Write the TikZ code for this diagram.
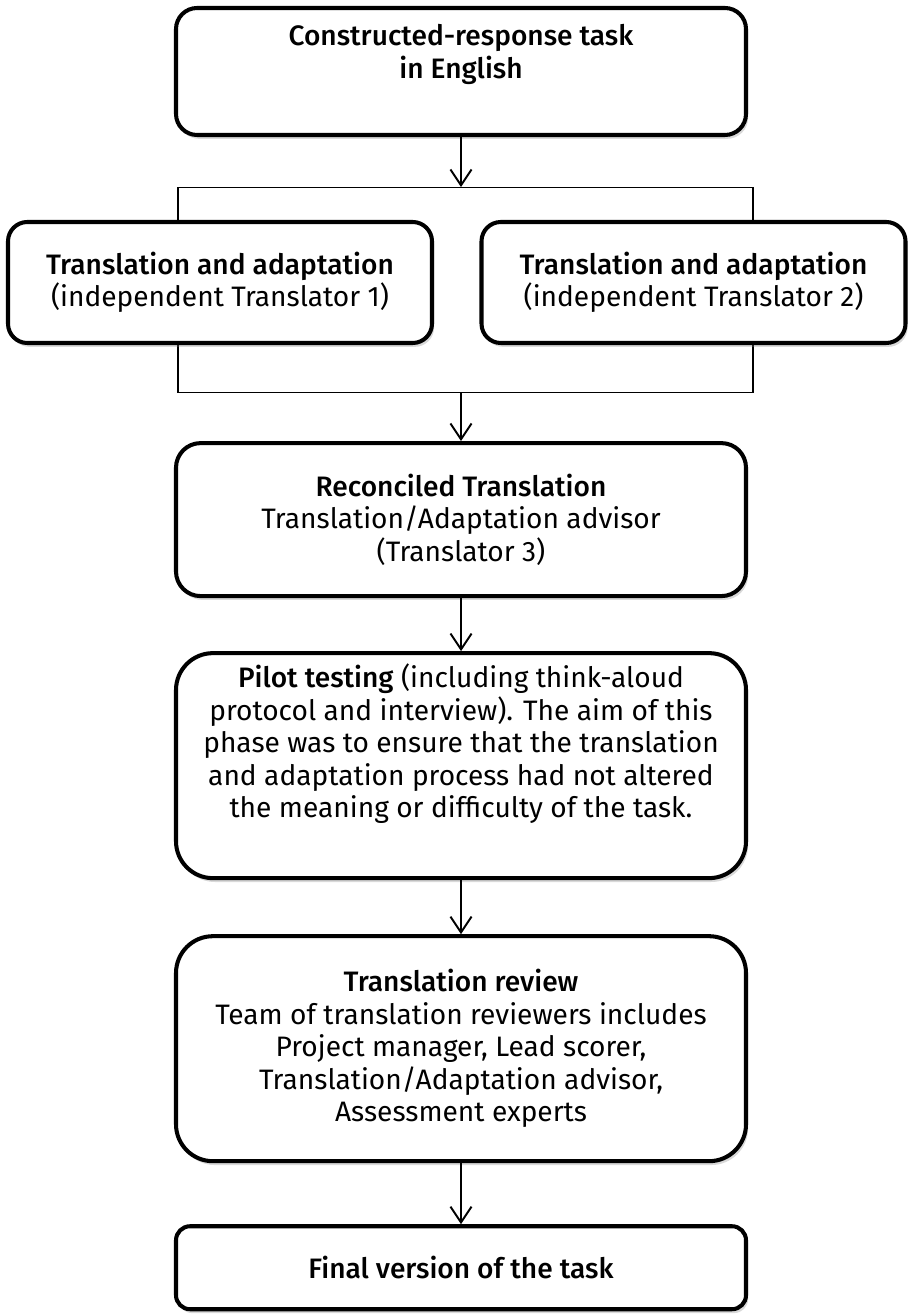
\documentclass[tikz,border=0pt]{standalone}
\usepackage{fontspec}
\setmainfont{Fira Sans}
\newfontfamily\medfont{Fira Sans Medium}
\usetikzlibrary{arrows.meta, positioning, shadows}

\begin{document}
\begin{tikzpicture}[
        font=\fontsize{16}{18.5}\selectfont,
        >={Straight Barb[length=9pt,width=12pt]},
        line width=1.1pt,
        box/.style={
            draw=black,
            fill=white,
            line width=2.3pt,
            rounded corners=#1,
            align=center,
            inner sep=4pt,
            minimum width=11.4cm,
            drop shadow={opacity=0.3, shadow xshift=1.2pt, shadow yshift=-2.2pt}
        },
        box/.default=12pt,
        bracket/.style={
            draw=black,
            line width=0.6pt,
            inner sep=0pt,
            minimum width=11.5cm,
            minimum height=4.1cm
        }
    ]
        \useasboundingbox (0,0) rectangle (18.22,-26.28);

        \node[box=12pt, minimum height=2.54cm, text depth=0.8cm] (task) at (9.22,-1.43) {\medfont Constructed-response task\\\medfont in English};

        % frame behind the two translations
        \node[bracket, below=1.0cm of task, xshift=0.09cm] (pair) {};

        \node[box=11pt, minimum width=8.48cm, minimum height=2.42cm] (trans1) at (4.4,-5.65) {{\medfont Translation and adaptation}\\(independent Translator 1)};
        \node[box=11pt, minimum width=8.48cm, minimum height=2.42cm] (trans2) at (13.87,-5.65) {{\medfont Translation and adaptation}\\(independent Translator 2)};

        \node[box=14pt, minimum height=3.06cm, below=0.96cm of pair, xshift=-0.09cm] (reconcile) {{\medfont Reconciled Translation}\\Translation/Adaptation advisor\\(Translator 3)};
        \node[box=21pt, minimum height=4.5cm, text depth=1cm, below=1.06cm of reconcile] (pilot) {{\medfont Pilot testing} (including think-aloud\\protocol and interview). The aim of this\\phase was to ensure that the translation\\and adaptation process had not altered\\the meaning or difficulty of the task.};
        \node[box=21pt, minimum height=4.5cm, below=1.08cm of pilot] (review) {{\medfont Translation review}\\Team of translation reviewers includes\\Project manager, Lead scorer,\\Translation/Adaptation advisor,\\Assessment experts};
        \node[box=8pt, minimum height=1.66cm, below=1.22cm of review] (final) {\medfont Final version of the task};

        \draw[->] (task) -- (task.south |- pair.north);
        \draw[->] (pair.south -| reconcile.north) -- (reconcile);
        \draw[->] (reconcile) -- (pilot);
        \draw[->] (pilot) -- (review);
        \draw[->] (review) -- (final);

    \end{tikzpicture}
\end{document}
